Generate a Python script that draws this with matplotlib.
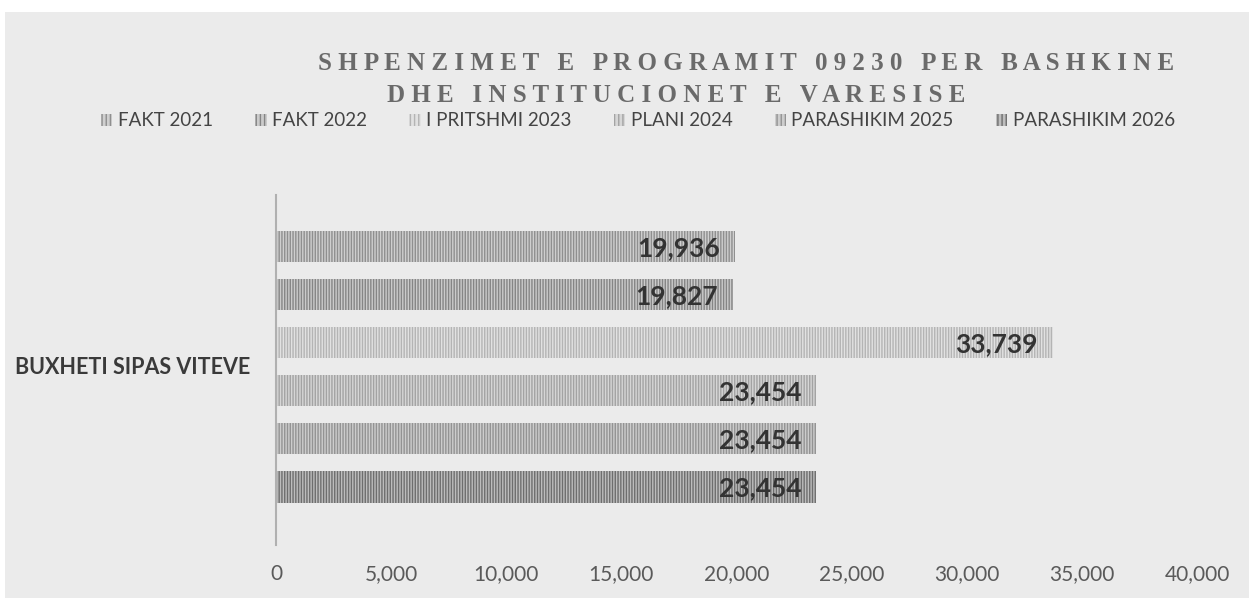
import matplotlib.pyplot as plt
from matplotlib.patches import Patch, Rectangle
from matplotlib.ticker import FuncFormatter

plt.rcParams['font.family'] = ['Lato', 'DejaVu Sans']
plt.rcParams['hatch.linewidth'] = 1.0

category = 'BUXHETI SIPAS VITEVE'
series = ['FAKT 2021', 'FAKT 2022', 'I PRITSHMI 2023', 'PLANI 2024',
          'PARASHIKIM 2025', 'PARASHIKIM 2026']
values = [19936, 19827, 33739, 23454, 23454, 23454]
face_colors = ['#cfcfcf', '#cbcbcb', '#e2e2e2', '#d6d6d6', '#cdcdcd', '#bdbdbd']
stripe_colors = ['#8f8f8f', '#858585', '#b4b4b4', '#a3a3a3', '#939393', '#6e6e6e']
title_lines = ['SHPENZIMET E PROGRAMIT 09230 PER BASHKINE',
               'DHE INSTITUCIONET E VARESISE']

fig = plt.figure(figsize=(12.49, 5.98), dpi=100, facecolor='white')
# grey page area under the white top strip
fig.patches.append(Rectangle((0.004, 0), 0.996, 1 - 12 / 598, transform=fig.transFigure,
                             facecolor='#ebebeb', edgecolor='none', zorder=-10))

ax = fig.add_axes([276 / 1249, 1 - 545 / 598, (1197 - 276) / 1249, 350 / 598])
ax.set_facecolor('none')

pos = list(range(len(series)))
bars = ax.barh(pos, values, height=0.65, color=face_colors, edgecolor=stripe_colors,
               linewidth=0, hatch='||||||')

for p, v in zip(pos, values):
    ax.text(v - 650, p + 0.03, f'{v:,}', ha='right', va='center', fontsize=19,
            fontweight='bold', color='#333333')

ax.set_xlim(0, 40000)
ax.set_ylim(6.21, -1.08)
ax.set_xticks(range(0, 40001, 5000))
ax.xaxis.set_major_formatter(FuncFormatter(lambda x, _: f'{int(x):,}'))
ax.tick_params(axis='x', length=0, pad=14, labelsize=15, labelcolor='#5a5a5a')
ax.set_yticks([])
for s in ['top', 'right', 'bottom']:
    ax.spines[s].set_visible(False)
ax.spines['left'].set_color('#b0b0b0')
ax.spines['left'].set_linewidth(1.5)

fig.text(250 / 1249, 1 - 367 / 598, category, ha='right', va='center', fontsize=15.5,
         fontweight='bold', color='#3a3a3a')

# letter-spaced serif title
for i, line in enumerate(title_lines):
    spaced = '   '.join(' '.join(w) for w in line.split(' '))
    fig.text([318, 387][i] / 1249, 1 - [64, 95][i] / 598, spaced, ha='left', va='center',
             family='Liberation Serif', fontweight='bold', fontsize=18, color='#6a6a6a')

handles = [Patch(facecolor=fc, edgecolor=ec, hatch='||||', linewidth=0)
           for fc, ec in zip(face_colors, stripe_colors)]
fig.legend(handles, series, loc='center', bbox_to_anchor=(638 / 1249, 1 - 121 / 598),
           ncol=6, frameon=False, fontsize=13.5, handlelength=0.6, handleheight=0.6,
           handletextpad=0.3, columnspacing=2.25, labelcolor='#444444')

fig.savefig('out.png', dpi=100, facecolor=fig.get_facecolor())
